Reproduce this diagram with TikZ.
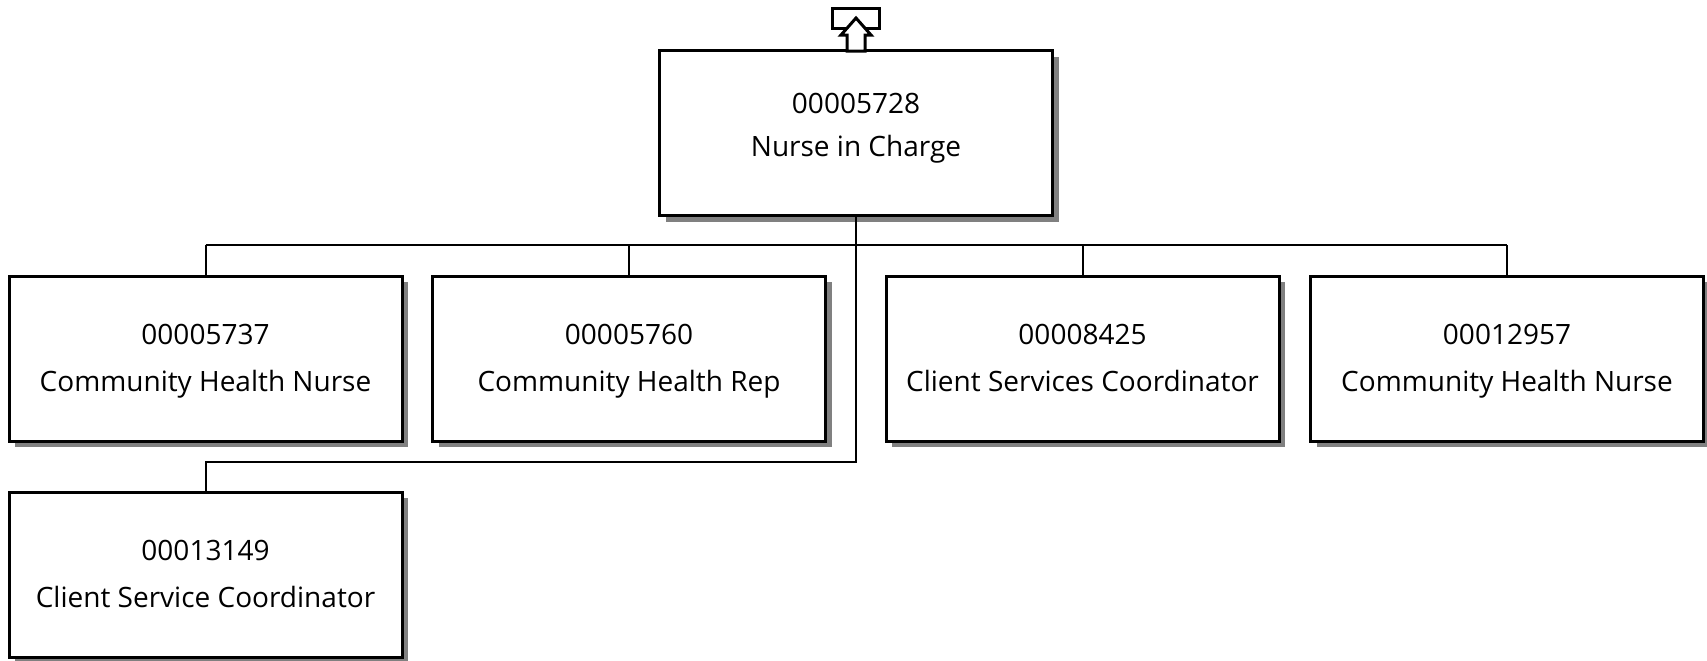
\documentclass[tikz,border=0pt]{standalone}
\usepackage{fontspec}
\setmainfont{Open Sans}
\usetikzlibrary{shadows}
\tikzset{
  post/.style={draw,line width=1.5pt,fill=white,minimum width=196.5pt,minimum height=82.5pt,
    align=center,font=\fontsize{14}{23.5}\selectfont,
    drop shadow={shadow xshift=3pt,shadow yshift=-3pt,fill=black!50,opacity=1}},
  link/.style={line width=1pt}
}

\begin{document}
\begin{tikzpicture}[x=0.5pt,y=-0.5pt]
  \useasboundingbox (0,0) rectangle (1707,660);
  % top post
  \node[post,font=\fontsize{14}{21.75}\selectfont] (nic) at (856,133)
    {\strut00005728\\Nurse in Charge\strut\rule[-13pt]{0pt}{13pt}};
  % direct reports
  \foreach \n/\x/\num/\title in {c1/205.5/00005737/Community Health Nurse,
      c2/629/00005760/Community Health Rep,
      c3/1082.5/00008425/Client Services Coordinator,
      c4/1507/00012957/Community Health Nurse} {
    \node[post] (\n) at (\x,358.5) {\strut\num\\\title\strut};
  }
  \node[post] (c5) at (205.5,574.5) {\strut00013149\\Client Service Coordinator\strut};
  % connectors
  \coordinate (busL) at (205.5,245);
  \coordinate (busR) at (1507,245);
  \coordinate (low) at (0,462);
  \draw[link] (busL) -- (busR);
  \foreach \n in {c1,c2,c3,c4}
    \draw[link] (\n.north) -- (\n.north |- busL);
  \draw[link] (nic.south) -- (nic.south |- low) -- (c5.north |- low) -- (c5.north);
  % up marker
  \draw[line width=1.5pt] (832,8) rectangle (879,28);
  \draw[line width=1.5pt,fill=white,line join=miter]
    (856,18) -- (871,35) -- (865,35) -- (865,51) -- (847,51) -- (847,35) -- (841,35) -- cycle;
\end{tikzpicture}
\end{document}
